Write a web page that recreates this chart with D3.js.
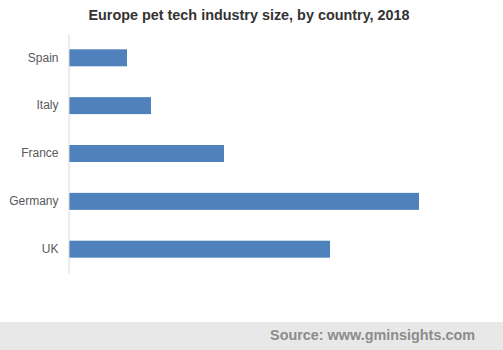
<!DOCTYPE html>
<html>
<head>
<meta charset="utf-8">
<script src="https://cdn.jsdelivr.net/npm/d3@7"></script>
<style>
  body { margin: 0; background: #fff; }
  svg { display: block; font-family: "Liberation Sans", Arial, sans-serif; }
</style>
</head>
<body>
<div id="chart"></div>
<script>
// Dados (estimados a partir da imagem)
const countries = ["Spain", "Italy", "France", "Germany", "UK"];
const sizes = [5.8, 8.2, 15.5, 35.0, 26.1];

const width = 503, height = 350;
const margin = {top: 34, left: 69, bottom: 77};

const svg = d3.select("#chart").append("svg")
  .attr("width", width)
  .attr("height", height);

// Título
svg.append("text")
  .attr("x", 249)
  .attr("y", 20)
  .attr("text-anchor", "middle")
  .attr("font-size", 14.4)
  .attr("font-weight", "bold")
  .attr("fill", "#333")
  .text("Europe pet tech industry size, by country, 2018");

// Escalas
const x = d3.scaleLinear().domain([0, 40]).range([margin.left, margin.left + 400]);
const y = d3.scaleBand().domain(countries)
  .range([margin.top, height - margin.bottom])
  .paddingInner(0.645).paddingOuter(0.32);

// Barras
svg.selectAll(".bar")
  .data(countries)
  .enter()
  .append("rect")
  .attr("class", "bar")
  .attr("x", x(0))
  .attr("y", d => y(d))
  .attr("width", (d, i) => x(sizes[i]) - x(0))
  .attr("height", y.bandwidth())
  .attr("fill", "#4f81bd");

// Eixo vertical (só linha + rótulos)
const yAxis = svg.append("g")
  .attr("transform", `translate(${margin.left - 0.5},0)`)
  .call(d3.axisLeft(y).tickSize(0).tickPadding(10));
yAxis.select(".domain").attr("stroke", "#d9d9d9");
yAxis.selectAll("text")
  .attr("font-size", 12)
  .attr("font-family", "'Liberation Sans', Arial, sans-serif")
  .attr("fill", "#595959");

// Rodapé
svg.append("rect")
  .attr("x", 0)
  .attr("y", 322)
  .attr("width", width)
  .attr("height", 28)
  .attr("fill", "#e8e8e8");

svg.append("text")
  .attr("x", 475)
  .attr("y", 340)
  .attr("text-anchor", "end")
  .attr("font-size", 14.4)
  .attr("font-weight", "bold")
  .attr("fill", "#8c8c8c")
  .text("Source: www.gminsights.com");
</script>
</body>
</html>
